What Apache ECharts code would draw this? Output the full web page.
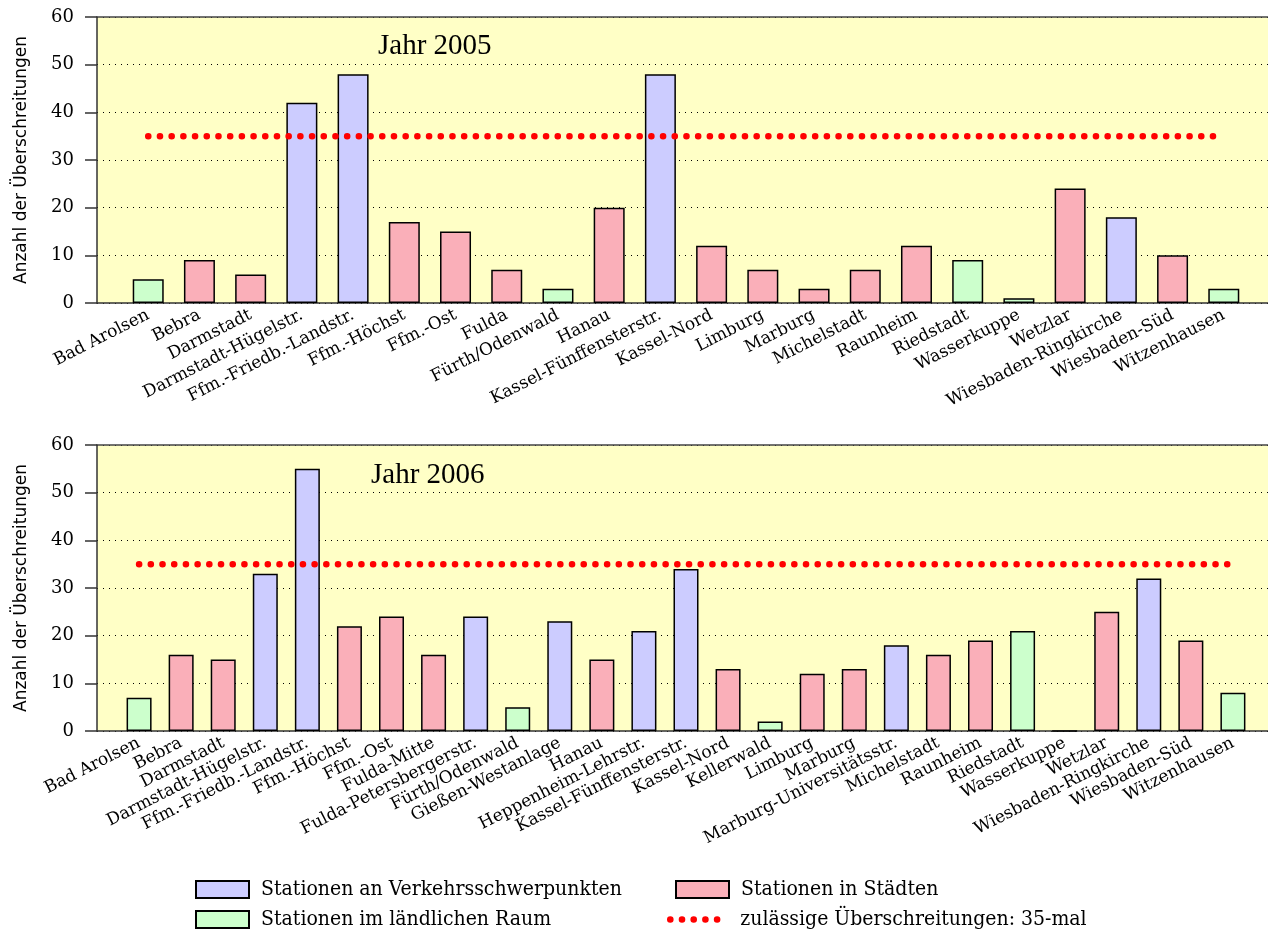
<!DOCTYPE html>
<html>
<head>
<meta charset="utf-8">
<script src="https://cdn.jsdelivr.net/npm/echarts@6/dist/echarts.min.js"></script>
<style>html,body{margin:0;padding:0;background:#fff}#chart{width:1268px;height:929px}</style>
</head>
<body>
<div id="chart"></div>
<script>
// ---- data ----
const stations2005 = ['Bad Arolsen','Bebra','Darmstadt','Darmstadt-Hügelstr.','Ffm.-Friedb.-Landstr.','Ffm.-Höchst','Ffm.-Ost','Fulda','Fürth/Odenwald','Hanau','Kassel-Fünffensterstr.','Kassel-Nord','Limburg','Marburg','Michelstadt','Raunheim','Riedstadt','Wasserkuppe','Wetzlar','Wiesbaden-Ringkirche','Wiesbaden-Süd','Witzenhausen'];
const values2005 = [5,9,6,42,48,17,15,7,3,20,48,12,7,3,7,12,9,1,24,18,10,3];
// V = Verkehrsschwerpunkt, S = Stadt, L = ländlicher Raum
const types2005 = ['L','S','S','V','V','S','S','S','L','S','V','S','S','S','S','S','L','L','S','V','S','L'];

const stations2006 = ['Bad Arolsen','Bebra','Darmstadt','Darmstadt-Hügelstr.','Ffm.-Friedb.-Landstr.','Ffm.-Höchst','Ffm.-Ost','Fulda-Mitte','Fulda-Petersbergerstr.','Fürth/Odenwald','Gießen-Westanlage','Hanau','Heppenheim-Lehrstr.','Kassel-Fünffensterstr.','Kassel-Nord','Kellerwald','Limburg','Marburg','Marburg-Universitätsstr.','Michelstadt','Raunheim','Riedstadt','Wasserkuppe','Wetzlar','Wiesbaden-Ringkirche','Wiesbaden-Süd','Witzenhausen'];
const values2006 = [7,16,15,33,55,22,24,16,24,5,23,15,21,34,13,2,12,13,18,16,19,21,0,25,32,19,8];
const types2006 = ['L','S','S','V','V','S','S','S','V','L','V','S','V','V','S','L','S','S','V','S','S','L','L','S','V','S','L'];

const limitValue = 35;
const yMin = 0, yMax = 60, yStep = 10;
const yearTitles = ['Jahr 2005','Jahr 2006'];
const typeNames = {V:'Stationen an Verkehrsschwerpunkten', S:'Stationen in Städten', L:'Stationen im ländlichen Raum'};
const limitName = 'zulässige Überschreitungen: 35-mal';
const yAxisName = 'Anzahl der Überschreitungen';

// ---- styles ----
const typeColors = {V:'#ccccff', S:'#faafb9', L:'#ccffcc'};
const serif = 'DejaVu Serif';
const dotStyle = {color:'#ff0000', width:6.5, type:[0.1,11.6], cap:'round'};

const chart = echarts.init(document.getElementById('chart'));

const grids = [
  {left:97, right:-7, top:17, height:286},
  {left:97, right:-7, top:445, height:286}
].map(g => Object.assign({show:true, backgroundColor:'#ffffc6', borderWidth:0, outerBoundsMode:'none', containLabel:false}, g));

const xAxes = [], yAxes = [], series = [];
const barWidths = [31, 25];

[[stations2005, values2005, types2005],[stations2006, values2006, types2006]].forEach(([names, vals, types], g) => {
  const cats = [''].concat(names).concat(['']);
  xAxes.push({
    type:'category', gridIndex:g, data:cats, boundaryGap:false,
    axisLine:{show:true, lineStyle:{color:'#333', width:1.5}},
    axisTick:{show:false},
    axisLabel:{interval:0, rotate:27, margin:11, fontFamily:serif, fontSize:17, color:'#000', hideOverlap:false},
    splitLine:{show:false}
  });
  xAxes.push({
    type:'category', gridIndex:g, data:cats, boundaryGap:false, position:'top',
    axisLine:{show:true, lineStyle:{color:'#444', width:1.5}},
    axisTick:{show:false}, axisLabel:{show:false}, splitLine:{show:false}
  });
  yAxes.push({
    type:'value', gridIndex:g, min:yMin, max:yMax, interval:yStep,
    name:yAxisName, nameLocation:'middle', nameGap:67,
    nameTextStyle:{fontFamily:'DejaVu Sans', fontSize:17, color:'#000'},
    axisLine:{show:true, lineStyle:{color:'#333', width:1.5}},
    axisTick:{show:true, length:12, lineStyle:{color:'#333', width:1.5}},
    axisLabel:{margin:23, fontFamily:serif, fontSize:18, color:'#000'},
    splitLine:{show:true, lineStyle:{color:'#000', width:1, type:[1,5]}}
  });
  ['V','S','L'].forEach(t => {
    series.push({
      type:'bar', name:typeNames[t], xAxisIndex:g*2, yAxisIndex:g, stack:'st'+g,
      barWidth:barWidths[g],
      itemStyle:{color:typeColors[t], borderColor:'#000', borderWidth:1.5},
      data:[null].concat(vals.map((v,i)=> types[i]===t ? v : null)).concat([null]),
      z:2
    });
  });
  series.push({
    type:'line', name:limitName, xAxisIndex:g*2, yAxisIndex:g,
    symbol:'none', z:5,
    lineStyle:dotStyle,
    data:[null].concat(names.map(()=>limitValue)).concat([null])
  });
});

const legendText = {fontFamily:"'DejaVu Serif Condensed', 'Liberation Serif'", fontSize:21, color:'#000'};
const legends = [
  {left:195, top:879, data:[typeNames.V], icon:'rect', textStyle:Object.assign({padding:[0,0,0,7]}, legendText)},
  {left:195, top:909, data:[typeNames.L], icon:'rect', textStyle:Object.assign({padding:[0,0,0,7]}, legendText)},
  {left:675, top:879, data:[typeNames.S], icon:'rect', textStyle:Object.assign({padding:[0,0,0,7]}, legendText)},
  {left:667, top:909, data:[limitName], lineStyle:Object.assign({}, dotStyle), itemStyle:{color:'rgba(0,0,0,0)', borderWidth:0, opacity:0}, textStyle:Object.assign({padding:[0,0,0,12]}, legendText)}
].map(l => Object.assign({orient:'horizontal', padding:0, itemWidth:53, itemHeight:17, selectedMode:false}, l));

chart.setOption({
  animation:false,
  backgroundColor:'#fff',
  title:[
    {text:yearTitles[0], left:373, top:27, padding:5, textStyle:{fontFamily:'Liberation Serif', fontSize:29, fontWeight:'normal', color:'#000'}},
    {text:yearTitles[1], left:366, top:456, padding:5, textStyle:{fontFamily:'Liberation Serif', fontSize:29, fontWeight:'normal', color:'#000'}}
  ],
  grid:grids,
  xAxis:xAxes,
  yAxis:yAxes,
  legend:legends,
  series:series
});
</script>
</body>
</html>
